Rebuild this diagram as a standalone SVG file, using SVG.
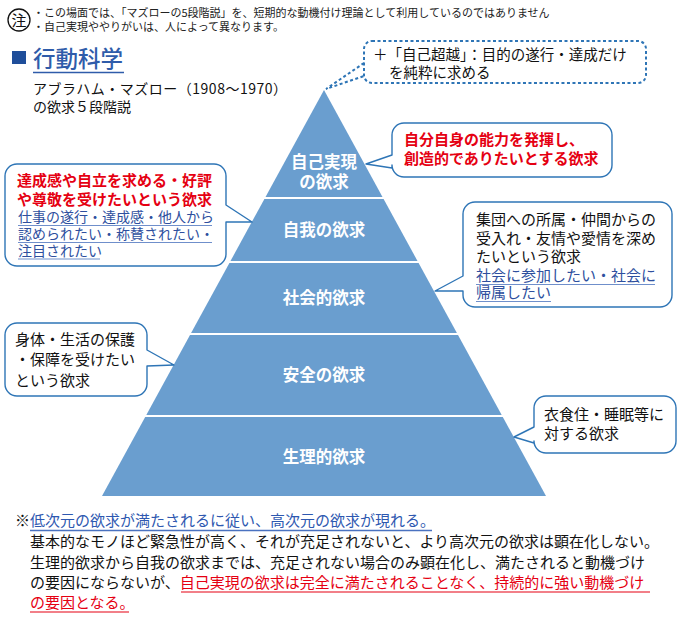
<svg xmlns="http://www.w3.org/2000/svg" width="680" height="627" viewBox="0 0 680 627">
<style>
text{font-family:"Noto Sans CJK JP","Noto Sans",sans-serif;}
.note{font-size:11px;fill:#222;}
.t14{font-size:14px;fill:#111;}
.t15{font-size:15px;fill:#111;}
.red{font-size:15px;fill:#e50012;font-weight:bold;}
.blu{font-size:14px;fill:#2e4f9e;}
.lbl{font-size:16.5px;fill:#fff;font-weight:bold;text-anchor:middle;}
.band{fill:#6a9ecf;}
.call{fill:#fff;stroke:#2e75b6;stroke-width:1.4;stroke-linejoin:round;}
.dot{fill:none;stroke:#2e75b6;stroke-width:2;stroke-dasharray:3 2.5;}
.ul{stroke:#6f8fcb;stroke-width:1.2;}
.ulr{stroke:#e50012;stroke-width:1.2;}
</style>

<g id="header-note">
<circle cx="19" cy="20" r="11" fill="none" stroke="#111" stroke-width="1.3"/>
<text x="19" y="25.5" font-size="15" text-anchor="middle" fill="#111">注</text>
<text class="note" x="33" y="17">・この場面では、「マズローの5段階説」を、短期的な動機付け理論として利用しているのではありません</text>
<text class="note" x="33" y="31">・自己実現ややりがいは、人によって異なります。</text>
</g>

<g id="title">
<rect x="12" y="51" width="14" height="13" fill="#1f4e9a"/>
<text x="33" y="67" font-size="22.5" fill="#2f5caa" font-weight="500">行動科学</text>
<line x1="33" y1="72.5" x2="124" y2="72.5" stroke="#2f5caa" stroke-width="1.3"/>
<text class="t14" x="33" y="94" textLength="254" lengthAdjust="spacing">アブラハム・マズロー（1908～1970）</text>
<text class="t14" x="33" y="112">の欲求５段階説</text>
</g>

<g id="pyramid">
<g id="band-self-actualization">
<polygon class="band" points="324,90 382.5,197 265.5,197"/>
<text class="lbl" x="324" y="168">自己実現</text>
<text class="lbl" x="324" y="188">の欲求</text>
</g>
<g id="band-esteem">
<polygon class="band" points="264.4,199 383.6,199 417.5,261 230.5,261"/>
<text class="lbl" x="324" y="236">自我の欲求</text>
</g>
<g id="band-social">
<polygon class="band" points="229.4,263 418.6,263 456.9,333 191.1,333"/>
<text class="lbl" x="324" y="304">社会的欲求</text>
</g>
<g id="band-safety">
<polygon class="band" points="190,335 458,335 501.7,415 146.3,415"/>
<text class="lbl" x="324" y="381">安全の欲求</text>
</g>
<g id="band-physiological">
<polygon class="band" points="145.2,417 502.8,417 546,496 102,496"/>
<text class="lbl" x="324" y="463">生理的欲求</text>
</g>
</g>

<g id="connectors">
<path class="dot" d="M364 63 L326 89 L364 76"/>
</g>

<g id="callout-transcendence">
<rect class="dot" x="364" y="41" width="282" height="42" rx="8"/>
<text x="373" y="60" font-size="14.5" fill="#111">＋「自己超越」：目的の遂行・達成だけ</text>
<text x="389" y="78" font-size="14.5" fill="#111">を純粋に求める</text>
</g>

<g id="callout-self">
<path class="call" d="M404 123 H600 A12 12 0 0 1 612 135 V165 A12 12 0 0 1 600 177 H404 A12 12 0 0 1 392 165 V168 L366 164 L392 155 V135 A12 12 0 0 1 404 123 Z"/>
<text class="red" x="404" y="145">自分自身の能力を発揮し、</text>
<text class="red" x="404" y="164">創造的でありたいとする欲求</text>
</g>

<g id="callout-esteem">
<path class="call" d="M17 164 H214 A12 12 0 0 1 226 176 V205 L252 222 L226 222 V254 A12 12 0 0 1 214 266 H17 A12 12 0 0 1 5 254 V176 A12 12 0 0 1 17 164 Z"/>
<text class="red" x="17" y="186">達成感や自立を求める・好評</text>
<text class="red" x="17" y="205">や尊敬を受けたいという欲求</text>
<text class="blu" x="18" y="222">仕事の遂行・達成感・他人から</text>
<text class="blu" x="18" y="239">認められたい・称賛されたい・</text>
<text class="blu" x="18" y="256">注目されたい</text>
<line class="ul" x1="18" y1="225.5" x2="212" y2="225.5"/>
<line class="ul" x1="18" y1="242.5" x2="212" y2="242.5"/>
<line class="ul" x1="18" y1="259" x2="100" y2="259"/>
</g>

<g id="callout-social">
<path class="call" d="M475 202 H660 A12 12 0 0 1 672 214 V295 A12 12 0 0 1 660 307 H475 A12 12 0 0 1 463 295 V291 L435 291 L463 276 V214 A12 12 0 0 1 475 202 Z"/>
<text class="t15" x="476" y="225">集団への所属・仲間からの</text>
<text class="t15" x="476" y="244">受入れ・友情や愛情を深め</text>
<text class="t15" x="476" y="262">たいという欲求</text>
<text x="476" y="281" font-size="15" fill="#2e4f9e">社会に参加したい・社会に</text>
<text x="476" y="298" font-size="15" fill="#2e4f9e">帰属したい</text>
<line class="ul" x1="476" y1="284.5" x2="655" y2="284.5"/>
<line class="ul" x1="476" y1="301.5" x2="551" y2="301.5"/>
</g>

<g id="callout-safety">
<path class="call" d="M17 323 H135 A12 12 0 0 1 147 335 V350 L174 365 L147 366 V384 A12 12 0 0 1 135 396 H17 A12 12 0 0 1 5 384 V335 A12 12 0 0 1 17 323 Z"/>
<text class="t15" x="15" y="345">身体・生活の保護</text>
<text class="t15" x="15" y="365">・保障を受けたい</text>
<text class="t15" x="15" y="386">という欲求</text>
</g>

<g id="callout-physiological">
<path class="call" d="M546 396 H664 A12 12 0 0 1 676 408 V441 A12 12 0 0 1 664 453 H546 A12 12 0 0 1 534 441 V443 L514 437 L534 427 V408 A12 12 0 0 1 546 396 Z"/>
<text class="t15" x="544" y="420">衣食住・睡眠等に</text>
<text class="t15" x="544" y="439">対する欲求</text>
</g>

<g id="footnote">
<text x="15" y="526" font-size="15" fill="#111">※<tspan fill="#2e58b0">低次元の欲求が満たされるに従い、高次元の欲求が現れる。</tspan></text>
<line x1="30" y1="530.5" x2="432" y2="530.5" stroke="#4a72c0" stroke-width="1.3"/>
<text class="t15" x="30" y="547">基本的なモノほど緊急性が高く、それが充足されないと、より高次元の欲求は顕在化しない。</text>
<text class="t15" x="30" y="568">生理的欲求から自我の欲求までは、充足されない場合のみ顕在化し、満たされると動機づけ</text>
<text class="t15" x="30" y="588">の要因にならないが、<tspan fill="#e50012">自己実現の欲求は完全に満たされることなく、持続的に強い動機づけ</tspan></text>
<text x="30" y="608" font-size="15" fill="#e50012">の要因となる。</text>
<line class="ulr" x1="181" y1="592" x2="650" y2="592"/>
<line class="ulr" x1="30" y1="612" x2="129" y2="612"/>
</g>
</svg>
